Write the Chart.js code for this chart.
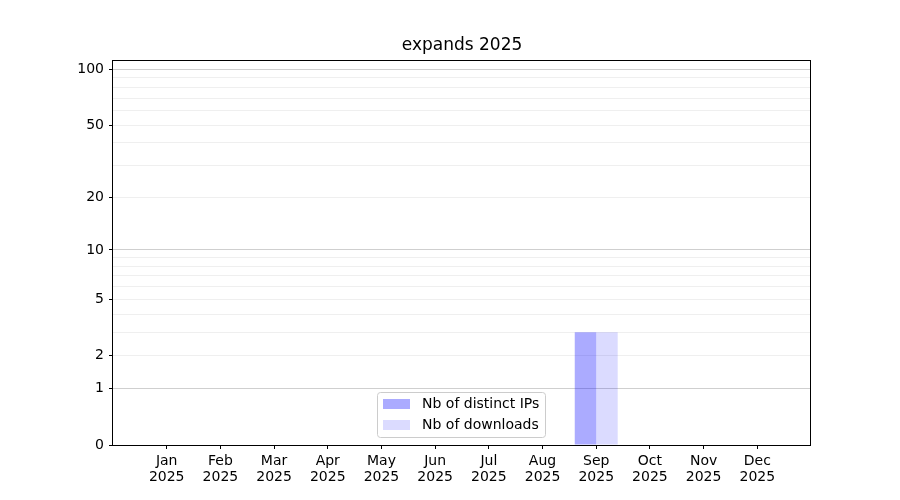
<!DOCTYPE html>
<html>
<head>
<meta charset="utf-8">
<script src="https://cdn.jsdelivr.net/npm/chart.js@4.4.1/dist/chart.umd.min.js"></script>
<style>
  body { margin: 0; background: #fff; }
  #wrap { width: 900px; height: 500px; }
</style>
</head>
<body>
<div id="wrap"><canvas id="downloads"></canvas></div>
<script>
// ********* Data *********
const months = ['Jan','Feb','Mar','Apr','May','Jun','Jul','Aug','Sep','Oct','Nov','Dec'];
const year = '2025';
const distinctIps = [0,0,0,0,0,0,0,0,3,0,0,0];
const downloads   = [0,0,0,0,0,0,0,0,3,0,0,0];
const yTicks  = [0,1,2,3,4,5,6,7,8,9,10,20,30,40,50,60,70,80,90,100];
const yLabels = [0,1,2,5,10,20,50,100];
const yMajorGrid = [1,10,100];
const yMax = 112.6;

// ********* log(1+x) scale, like the symlog-ish axis of the original *********
class Log1pScale extends Chart.LinearScale {
  getPixelForValue(value) {
    const lo = Math.log10(1 + this.min), hi = Math.log10(1 + this.max);
    return this.getPixelForDecimal((Math.log10(1 + value) - lo) / (hi - lo));
  }
  getValueForPixel(pixel) {
    const lo = Math.log10(1 + this.min), hi = Math.log10(1 + this.max);
    return Math.pow(10, lo + this.getDecimalForPixel(pixel) * (hi - lo)) - 1;
  }
}
Log1pScale.id = 'log1p';
Log1pScale.defaults = {};
Chart.register(Log1pScale);

Chart.defaults.font.family = '"DejaVu Sans", sans-serif';
Chart.defaults.color = '#000';

// ********* Box around the axes *********
const frame = {
  id: 'frame',
  afterDatasetsDraw(chart) {
    const {ctx, chartArea: a} = chart;
    ctx.save();
    ctx.strokeStyle = '#000';
    ctx.lineWidth = 1;
    ctx.strokeRect(Math.round(a.left) - 0.5, Math.round(a.top) + 0.5,
                   Math.round(a.right - a.left), Math.round(a.bottom - a.top));
    ctx.restore();
  }
};

// ********* Legend inside the plot, lower center *********
const boxLegend = {
  id: 'boxLegend',
  afterDatasetsDraw(chart) {
    const {ctx, chartArea: a} = chart;
    const sets = chart.data.datasets;
    ctx.save();
    ctx.font = '14px "DejaVu Sans"';
    const tw = Math.max(...sets.map(d => ctx.measureText(d.label).width));
    const w = Math.round(6 + 27 + 12 + tw + 6), h = 45;
    const x = Math.round((a.left + a.right) / 2 - w / 2) - 1, y = Math.round(a.bottom - 8 - h);
    ctx.beginPath();
    ctx.roundRect(x + 0.5, y + 0.5, w, h, 3);
    ctx.fillStyle = 'rgba(255,255,255,0.8)';
    ctx.fill();
    ctx.strokeStyle = '#cccccc';
    ctx.lineWidth = 1;
    ctx.stroke();
    sets.forEach((d, i) => {
      const ry = y + 7 + i * 21;
      ctx.fillStyle = d.backgroundColor;
      ctx.fillRect(x + 6, ry, 27, 10);
      ctx.fillStyle = '#000';
      ctx.textBaseline = 'middle';
      ctx.fillText(d.label, x + 45, ry + 5.5);
    });
    ctx.restore();
  }
};

const ctx = document.getElementById('downloads').getContext('2d');
const report = new Chart(ctx, {
  type: 'bar',
  data: {
    datasets: [{
      label: 'Nb of distinct IPs',
      data: months.map((m, i) => ({x: i, y: distinctIps[i]})),
      backgroundColor: 'rgba(0,0,255,0.33)',
      borderWidth: 0
    }, {
      label: 'Nb of downloads',
      data: months.map((m, i) => ({x: i, y: downloads[i]})),
      backgroundColor: 'rgba(0,0,255,0.14)',
      borderWidth: 0
    }]
  },
  options: {
    responsive: true,
    maintainAspectRatio: false,
    animation: false,
    categoryPercentage: 0.8,
    barPercentage: 1.0,
    layout: { padding: { left: 0, right: 89, top: 0, bottom: 0 } },
    plugins: {
      legend: { display: false },
      tooltip: { enabled: false },
      title: {
        display: true,
        text: 'expands ' + year,
        fullSize: false,
        color: '#000',
        font: { size: 17, weight: 'normal', lineHeight: 1.2 },
        padding: { top: 35.5, bottom: 4 }
      }
    },
    scales: {
      x: {
        type: 'linear',
        min: -1,
        max: 12,
        offset: false,
        afterBuildTicks: s => { s.ticks = months.map((m, i) => ({value: i})); },
        ticks: {
          autoSkip: false,
          maxRotation: 0,
          padding: 4,
          color: '#000',
          font: { size: 14, lineHeight: 1.15 },
          callback: v => [months[v], year]
        },
        grid: { drawOnChartArea: false, tickLength: 4, tickColor: '#000', offset: false },
        border: { display: false },
        afterFit: s => { s.height = 55; s.paddingLeft = 0; s.paddingRight = 0; }
      },
      y: {
        type: 'log1p',
        min: 0,
        max: yMax,
        afterBuildTicks: s => { s.ticks = yTicks.map(v => ({value: v})); },
        ticks: {
          autoSkip: false,
          padding: 5,
          color: '#000',
          font: { size: 14 },
          callback: v => yLabels.includes(v) ? String(v) : ''
        },
        grid: {
          lineWidth: 1,
          tickLength: 4,
          color: c => c.tick.value === 0 ? 'transparent'
                    : yMajorGrid.includes(c.tick.value) ? '#cfcfcf' : '#efefef',
          tickColor: c => yLabels.includes(c.tick.value) ? '#000' : 'transparent'
        },
        border: { display: false },
        afterFit: s => { s.width = 113; s.paddingTop = 0; s.paddingBottom = 0; }
      }
    }
  },
  plugins: [boxLegend, frame]
});
</script>
</body>
</html>
